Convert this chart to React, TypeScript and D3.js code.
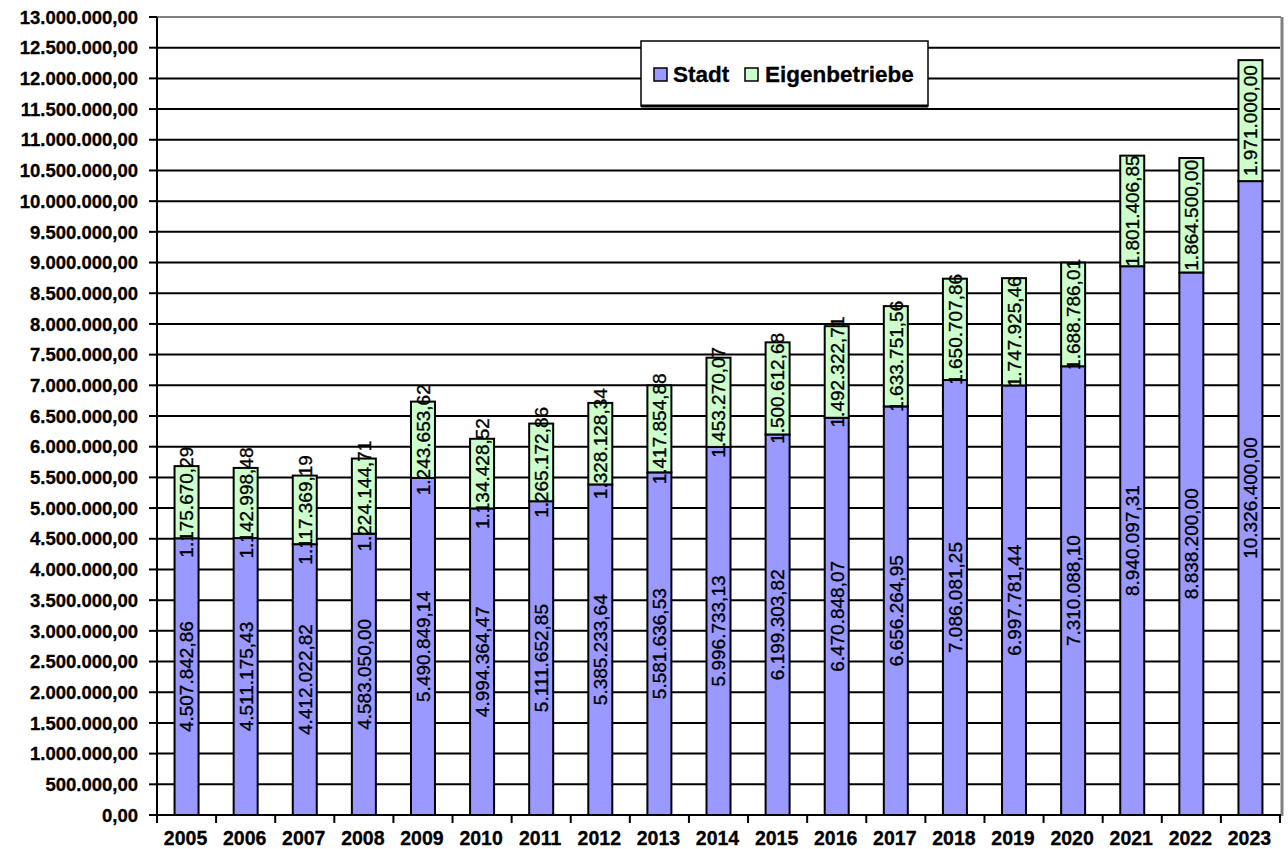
import React from "react";
import * as d3 from "d3";

const years = ["2005","2006","2007","2008","2009","2010","2011","2012","2013","2014","2015","2016","2017","2018","2019","2020","2021","2022","2023"];
const stadt = [4507842.86,4511175.43,4412022.82,4583050.00,5490849.14,4994364.47,5111652.85,5385233.64,5581636.53,5996733.13,6199303.82,6470848.07,6656264.95,7086081.25,6997781.44,7310088.10,8940097.31,8838200.00,10326400.00];
const eigen = [1175670.29,1142998.48,1117369.19,1224144.71,1243653.62,1134428.52,1265172.86,1328128.34,1417854.88,1453270.07,1500612.68,1492322.71,1633751.56,1650707.86,1747925.46,1688786.01,1801406.85,1864500.00,1971000.00];
const yTicks = d3.range(0, 13000001, 500000);
const seriesNames = ["Stadt", "Eigenbetriebe"];
const colors = ["#9999FF", "#CCFFCC"];

const fmt = (v: number) => {
  const [i, f] = v.toFixed(2).split(".");
  return i.replace(/\B(?=(\d{3})+(?!\d))/g, ".") + "," + f;
};

export default function App() {
  const W = 1288, H = 849;
  const left = 157, right = 1280, top = 17, bottom = 815;
  const x = d3.scaleBand<string>().domain(years).range([left, right]).paddingInner(0).paddingOuter(0);
  const y = d3.scaleLinear().domain([0, 13000000]).range([bottom, top]);
  const bw = 24;
  const font = "Arial, 'Liberation Sans', sans-serif";
  const bars = years.map((yr, i) => {
    const cx = (x(yr) as number) + x.bandwidth() / 2;
    return { yr, cx, s: stadt[i], e: eigen[i] };
  });
  return (
    <svg width={W} height={H} style={{ position: "absolute", left: 0, top: 0, background: "#fff" }} fontFamily={font}>
      {yTicks.map((t) => (
        <line key={"g" + t} x1={left} x2={right} y1={y(t)} y2={y(t)} stroke="#000" strokeWidth={2} />
      ))}
      <line x1={left} x2={right + 1} y1={top} y2={top} stroke="#808080" strokeWidth={2} />
      <line x1={right + 2} x2={right + 2} y1={top} y2={bottom + 1} stroke="#808080" strokeWidth={3} />
      {bars.map((b) => (
        <g key={"b" + b.yr}>
          <rect x={b.cx - bw / 2} y={y(b.s)} width={bw} height={y(0) - y(b.s)} fill={colors[0]} stroke="#000" strokeWidth={2} />
          <rect x={b.cx - bw / 2} y={y(b.s + b.e)} width={bw} height={y(b.s) - y(b.s + b.e)} fill={colors[1]} stroke="#000" strokeWidth={2} />
        </g>
      ))}
      <line x1={left} x2={left} y1={top} y2={bottom + 8} stroke="#000" strokeWidth={2} />
      <line x1={left - 1} x2={right + 1} y1={bottom} y2={bottom} stroke="#000" strokeWidth={2} />
      {yTicks.map((t) => (
        <g key={"yt" + t}>
          <line x1={left - 8} x2={left} y1={y(t)} y2={y(t)} stroke="#000" strokeWidth={2} />
          <text x={138} y={y(t)} dy="0.36em" textAnchor="end" fontSize={18.5} fontWeight="bold" stroke="#000" strokeWidth={0.3}>{fmt(t)}</text>
        </g>
      ))}
      {years.map((yr) => (
        <line key={"xt" + yr} x1={(x(yr) as number) + x.bandwidth()} x2={(x(yr) as number) + x.bandwidth()} y1={bottom} y2={bottom + 8} stroke="#000" strokeWidth={2} />
      ))}
      {bars.map((b) => (
        <text key={"xl" + b.yr} x={b.cx - 1} y={845} textAnchor="middle" fontSize={19.5} fontWeight="bold" stroke="#000" strokeWidth={0.3}>{b.yr}</text>
      ))}
      {bars.map((b) => {
        const m1 = (y(0) + y(b.s)) / 2;
        const m2 = (y(b.s) + y(b.s + b.e)) / 2;
        return (
          <g key={"l" + b.yr}>
            <text transform={`translate(${b.cx},${m1}) rotate(-90)`} dy="0.36em" textAnchor="middle" fontSize={19} stroke="#000" strokeWidth={0.35}>{fmt(b.s)}</text>
            <text transform={`translate(${b.cx},${m2}) rotate(-90)`} dy="0.36em" textAnchor="middle" fontSize={19} stroke="#000" strokeWidth={0.35}>{fmt(b.e)}</text>
          </g>
        );
      })}
      <rect x={641} y={41} width={287} height={65} fill="#fff" stroke="#000" strokeWidth={1.5} />
      <line x1={641} x2={928} y1={106} y2={106} stroke="#000" strokeWidth={3} />
      <rect x={654} y={68} width={13} height={13} fill={colors[0]} stroke="#000" strokeWidth={1.5} />
      <text x={673} y={82} fontSize={22.5} fontWeight="bold" stroke="#000" strokeWidth={0.3}>{seriesNames[0]}</text>
      <rect x={745} y={68} width={13} height={13} fill={colors[1]} stroke="#000" strokeWidth={1.5} />
      <text x={765} y={82} fontSize={22.5} fontWeight="bold" stroke="#000" strokeWidth={0.3}>{seriesNames[1]}</text>
    </svg>
  );
}
